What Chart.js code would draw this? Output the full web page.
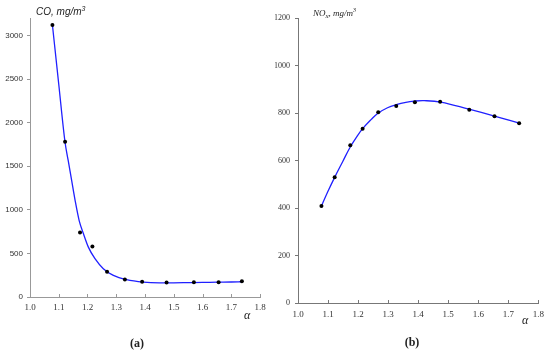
<!DOCTYPE html>
<html lang="en">
<head>
    <meta charset="UTF-8">
    <title>CO and NOx vs alpha</title>
    <style>
        html, body { margin: 0; padding: 0; background: #fff; }
        .wrap { position: relative; width: 550px; height: 354px; }
        .panel { position: absolute; top: 0; width: 275px; height: 354px; }
        #panelA { left: 0; }
        #panelB { left: 275px; }
    </style>
</head>
<body>
    <div class="wrap">
        <div class="panel" id="panelA"><canvas id="chartA" width="275" height="354"></canvas></div>
        <div class="panel" id="panelB"><canvas id="chartB" width="275" height="354"></canvas></div>
    </div>
    <script src="https://cdn.jsdelivr.net/npm/chart.js"></script>
    <script>
    // measured points (a) CO
    var alphaCO  = [1.078, 1.122, 1.174, 1.217, 1.268, 1.330, 1.390, 1.475, 1.570, 1.656, 1.737];
    var coValues = [3120, 1780, 740, 580, 290, 200, 175, 165, 170, 170, 180];

    // fitted curve (a)
    var coFitAlpha  = [1.078, 1.100, 1.122, 1.133, 1.145, 1.157, 1.171, 1.186, 1.203, 1.226, 1.255, 1.290, 1.336, 1.394, 1.450, 1.500, 1.550, 1.600, 1.650, 1.700, 1.737];
    var coFitValues = [3120, 2440, 1772, 1563, 1334, 1106, 877, 725, 572, 439, 325, 248, 199, 171, 163, 163, 165, 167, 170, 172, 175];

    // measured points (b) NOx
    var alphaNOx  = [1.078, 1.122, 1.174, 1.215, 1.267, 1.327, 1.389, 1.473, 1.570, 1.654, 1.736];
    var noxValues = [408, 529, 664, 734, 803, 830, 845, 847, 814, 786, 757];

    // fitted curve (b)
    var noxFitAlpha  = [1.078, 1.099, 1.1215, 1.149, 1.1735, 1.197, 1.2165, 1.243, 1.265, 1.298, 1.327, 1.359, 1.386, 1.420, 1.475, 1.569, 1.651, 1.736];
    var noxFitValues = [408, 468, 528, 596, 656, 703, 736, 772, 798, 822, 835, 845, 850, 852, 846, 816, 788, 757];

    // tick labels
    var alphaTicks = [1.0, 1.1, 1.2, 1.3, 1.4, 1.5, 1.6, 1.7, 1.8];
    var coTicks    = [0, 500, 1000, 1500, 2000, 2500, 3000];
    var noxTicks   = [0, 200, 400, 600, 800, 1000, 1200];

    // axis ranges
    var alphaRange = [1.0, 1.8];
    var coRange = [0, 3200];
    var noxRange = [0, 1200];

    function toPoints(xs, ys) {
        return xs.map(function (x, i) { return { x: x, y: ys[i] }; });
    }

    // inward x ticks + free text (axis titles, panel letters)
    var panelText = {
        id: 'panelText',
        afterDraw: function (chart, args, opts) {
            var ctx = chart.ctx;
            var xs = chart.scales.x;
            var area = chart.chartArea;
            ctx.save();
            ctx.strokeStyle = opts.tickColor;
            ctx.lineWidth = 1;
            xs.ticks.forEach(function (t) {
                var px = Math.round(xs.getPixelForValue(t.value)) + 0.5;
                ctx.beginPath();
                ctx.moveTo(px, xs.top);
                ctx.lineTo(px, xs.top - 3);
                ctx.stroke();
            });
            ctx.textBaseline = 'alphabetic';
            ctx.fillStyle = '#222';
            opts.labels.forEach(function (l) {
                var x = area.left + (l.dx || 0);
                var y = l.y;
                if (l.center) {
                    var w = 0;
                    l.parts.forEach(function (p) { ctx.font = p.font; w += ctx.measureText(p.text).width; });
                    x = l.center - w / 2;
                }
                l.parts.forEach(function (p) {
                    ctx.font = p.font;
                    ctx.textAlign = 'left';
                    ctx.fillText(p.text, x, y + (p.dy || 0));
                    x += ctx.measureText(p.text).width;
                });
            });
            ctx.restore();
        }
    };

    function createPanel(canvas, cfg) {
        return new Chart(canvas.getContext('2d'), {
            type: 'scatter',
            data: {
                datasets: [
                    {
                        data: cfg.points,
                        showLine: false,
                        pointRadius: 2,
                        pointBackgroundColor: '#000',
                        pointBorderWidth: 0,
                        order: 0
                    },
                    {
                        data: cfg.fit,
                        showLine: true,
                        pointRadius: 0,
                        borderColor: '#2020ff',
                        borderWidth: 1.3,
                        cubicInterpolationMode: cfg.curveMode,
                        tension: 0.4,
                        order: 1
                    }
                ]
            },
            options: {
                responsive: false,
                animation: false,
                layout: { padding: { top: cfg.padTop, right: cfg.padRight, left: 0, bottom: 0 } },
                plugins: {
                    legend: { display: false },
                    tooltip: { enabled: false },
                    panelText: { tickColor: cfg.axisColor, labels: cfg.labels }
                },
                scales: {
                    x: {
                        type: 'linear',
                        min: alphaRange[0],
                        max: alphaRange[1],
                        grid: { display: false, drawTicks: false },
                        border: { color: cfg.axisColor, width: 1 },
                        ticks: {
                            padding: cfg.xPad,
                            color: '#333',
                            font: { family: 'Liberation Serif', size: 9 },
                            callback: function (v) { return v.toFixed(1); }
                        },
                        afterBuildTicks: function (s) {
                            s.ticks = alphaTicks.map(function (v) { return { value: v }; });
                        },
                        afterFit: function (s) { s.height = cfg.xHeight; }
                    },
                    y: {
                        type: 'linear',
                        min: cfg.yRange[0],
                        max: cfg.yRange[1],
                        grid: { drawOnChartArea: false, drawTicks: true, tickLength: 3, color: cfg.axisColor },
                        border: { color: cfg.axisColor, width: 1 },
                        ticks: {
                            padding: cfg.yPad,
                            color: '#333',
                            font: { family: cfg.yFont, size: 8 },
                            callback: function (v) { return String(v); }
                        },
                        afterBuildTicks: function (s) {
                            s.ticks = cfg.yTicks.map(function (v) { return { value: v }; });
                        },
                        afterFit: function (s) { s.width = cfg.yWidth; }
                    }
                }
            },
            plugins: [panelText]
        });
    }

    document.addEventListener('DOMContentLoaded', function () {
        createPanel(document.getElementById('chartA'), {
            points: toPoints(alphaCO, coValues),
            fit: toPoints(coFitAlpha, coFitValues),
            curveMode: 'monotone',
            yRange: coRange,
            yTicks: coTicks,
            yFont: 'Liberation Sans',
            yWidth: 30,
            yPad: 4,
            xHeight: 57,
            xPad: 5,
            padTop: 18,
            padRight: 15,
            axisColor: '#999',
            labels: [
                { dx: 6, y: 15, parts: [
                    { text: 'CO, mg/m', font: 'italic 10px "Liberation Sans"' },
                    { text: '3', font: 'italic 7px "Liberation Sans"', dy: -4 }
                ] },
                { dx: 214, y: 319, parts: [{ text: '\u03b1', font: 'italic 12px "Liberation Serif"' }] },
                { center: 137, y: 347, parts: [{ text: '(a)', font: 'bold 12px "Liberation Serif"' }] }
            ]
        });

        createPanel(document.getElementById('chartB'), {
            points: toPoints(alphaNOx, noxValues),
            fit: toPoints(noxFitAlpha, noxFitValues),
            curveMode: 'default',
            yRange: noxRange,
            yTicks: noxTicks,
            yFont: 'Liberation Serif',
            yWidth: 23,
            yPad: 5,
            xHeight: 51,
            xPad: 6,
            padTop: 18,
            padRight: 10,
            axisColor: '#777',
            labels: [
                { dx: 15, y: 16, parts: [
                    { text: 'NO', font: 'italic 9px "Liberation Serif"' },
                    { text: 'x', font: 'italic 7px "Liberation Serif"', dy: 2 },
                    { text: ', mg/m', font: 'italic 9px "Liberation Serif"' },
                    { text: '3', font: 'italic 6px "Liberation Serif"', dy: -4 }
                ] },
                { dx: 224, y: 324, parts: [{ text: '\u03b1', font: 'italic 12px "Liberation Serif"' }] },
                { center: 137, y: 346, parts: [{ text: '(b)', font: 'bold 12px "Liberation Serif"' }] }
            ]
        });
    });
    </script>
</body>
</html>
